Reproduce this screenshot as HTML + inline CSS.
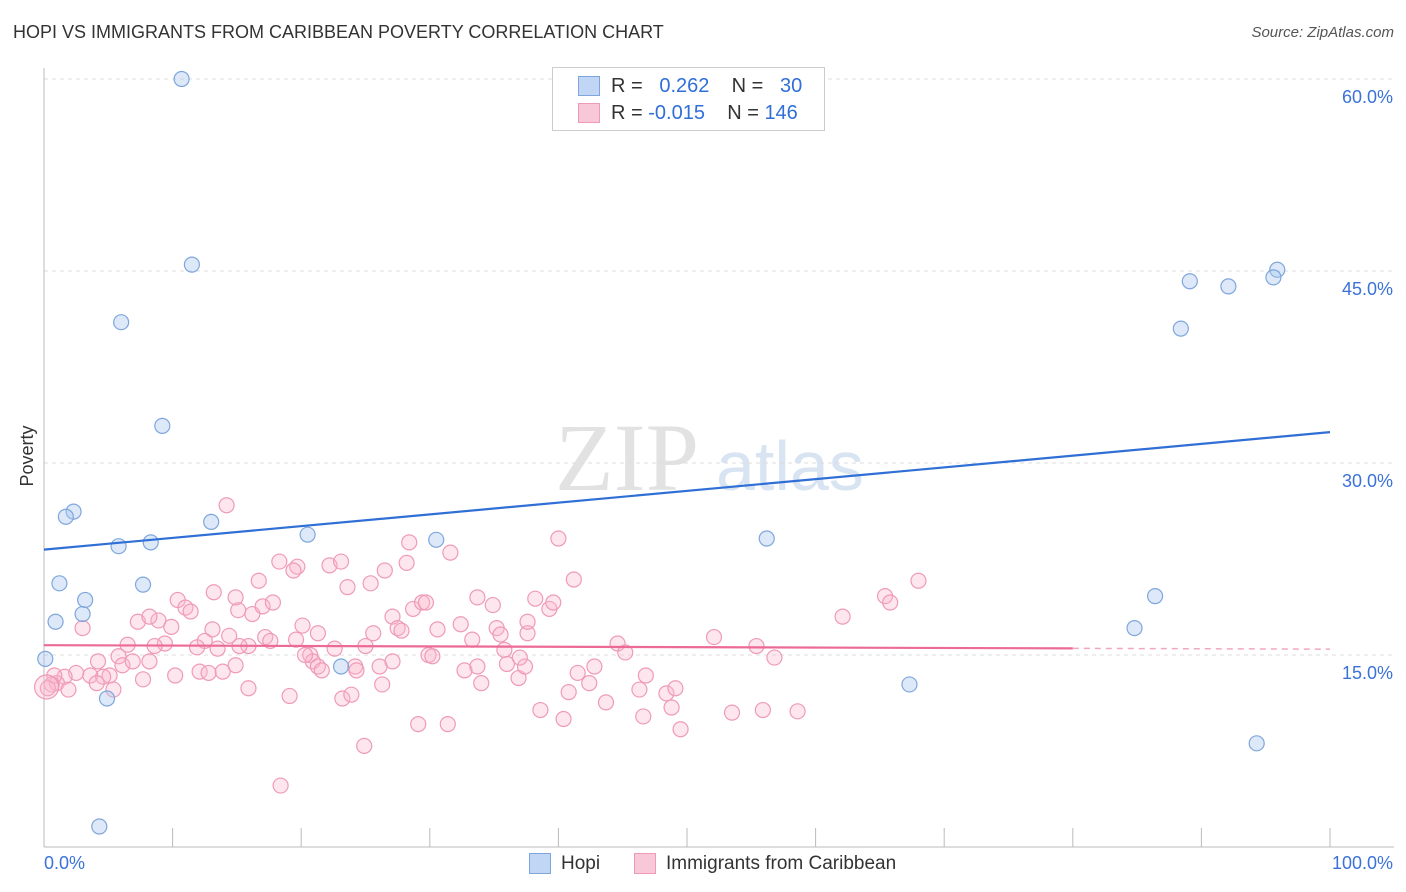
<!DOCTYPE html>
<html><head><meta charset="utf-8"><style>
body{margin:0;background:#fff;font-family:"Liberation Sans",sans-serif;}
#wrap{position:relative;width:1406px;height:892px;overflow:hidden;}
.t{position:absolute;white-space:nowrap;}
</style></head><body>
<div id="wrap">
<div class="t" style="left:13px;top:22px;font-size:18px;color:#333;">HOPI VS IMMIGRANTS FROM CARIBBEAN POVERTY CORRELATION CHART</div>
<div class="t" style="right:12px;top:24px;font-size:15px;color:#555;font-style:italic;">Source: ZipAtlas.com</div>
<svg id="svg" width="1406" height="892" style="position:absolute;left:0;top:0"></svg>
</div>
<script>
const hopiX=[10.7,11.5,6.0,9.2,2.3,1.7,13.0,5.8,8.3,20.5,30.5,56.2,1.2,7.7,3.2,0.9,3.0,0.1,4.9,4.3,23.1,67.3,89.1,92.1,95.9,95.6,88.4,86.4,84.8,94.3];
const hopiY=[60.0,45.5,41.0,32.9,26.2,25.8,25.4,23.5,23.8,24.4,24.0,24.1,20.6,20.5,19.3,17.6,18.2,14.7,11.6,1.6,14.1,12.7,44.2,43.8,45.1,44.5,40.5,19.6,17.1,8.1];
const caribX=[14.2,18.3,19.7,19.4,22.2,23.1,28.4,31.6,40.0,28.2,26.5,25.4,23.6,16.7,13.2,10.4,11.0,11.4,8.9,7.3,8.2,9.9,15.1,16.2,17.0,17.8,20.1,21.3,17.2,17.6,15.9,14.4,13.1,12.5,11.9,9.4,6.5,8.6,13.5,15.2,20.7,22.6,25.0,25.6,27.1,27.5,27.8,28.7,29.4,29.7,30.6,32.4,33.7,34.9,35.2,35.5,37.6,37.6,38.2,39.3,39.6,41.2,44.6,45.2,52.1,55.4,56.8,62.1,65.4,65.8,68.0,3.0,4.2,5.8,6.1,6.9,8.2,5.1,3.6,2.5,1.6,1.0,1.9,0.8,0.6,0.3,4.6,5.4,4.1,7.7,10.2,12.1,12.8,13.9,14.9,15.9,19.1,20.9,21.3,21.6,24.2,24.3,26.1,26.3,27.1,29.9,32.7,33.7,34.0,36.0,36.9,37.4,40.8,41.5,42.4,42.8,43.7,46.3,46.8,48.4,49.1,48.8,53.5,55.9,58.6,46.6,49.5,38.6,40.4,29.1,31.4,23.2,23.9,24.9,18.4,20.3,19.6,30.2,37.0,35.8,33.3,14.9,0.2];
const caribY=[26.7,22.3,21.9,21.6,22.0,22.3,23.8,23.0,24.1,22.2,21.6,20.6,20.3,20.8,19.9,19.3,18.7,18.4,17.7,17.6,18.0,17.2,18.5,18.2,18.8,19.1,17.3,16.7,16.4,16.1,15.7,16.5,17.0,16.1,15.6,15.9,15.8,15.7,15.5,15.7,15.0,15.5,15.7,16.7,18.0,17.1,16.9,18.6,19.1,19.1,17.0,17.4,19.5,18.9,17.1,16.6,16.7,17.6,19.4,18.6,19.1,20.9,15.9,15.2,16.4,15.7,14.8,18.0,19.6,19.1,20.8,17.1,14.5,14.9,14.2,14.5,14.5,13.4,13.4,13.6,13.3,12.8,12.3,13.4,12.7,12.4,13.3,12.3,12.8,13.1,13.4,13.7,13.6,13.7,14.2,12.4,11.8,14.5,14.1,13.8,14.1,13.8,14.1,12.7,14.5,15.0,13.8,14.1,12.8,14.3,13.2,14.1,12.1,13.6,12.8,14.1,11.3,12.3,13.4,12.0,12.4,10.9,10.5,10.7,10.6,10.2,9.2,10.7,10.0,9.6,9.6,11.6,11.9,7.9,4.8,15.0,16.2,14.9,14.8,15.4,16.2,19.5,12.5];
const yTicks=[15,30,45,60];
const yTickLabels=["15.0%","30.0%","45.0%","60.0%"];
const xTicks=[0,10,20,30,40,50,60,70,80,90,100];

const svg=document.getElementById('svg');
const NS='http://www.w3.org/2000/svg';
const X=v=>44+v*12.86, Y=v=>847-v*12.8;
function mk(tag,attrs,name,parent){const e=document.createElementNS(NS,tag);for(const k in attrs)e.setAttribute(k,attrs[k]);


(parent||svg).appendChild(e);return e;}
// watermark
const wm=mk('text',{x:555,y:490,'font-size':96,'font-family':'Liberation Serif',fill:'#e2e2e2'},'watermark-zip');wm.textContent='ZIP';
const wm2=mk('text',{x:716,y:490,'font-size':70,'font-family':'Liberation Sans',fill:'#d8e4f2'},'watermark-atlas');wm2.textContent='atlas';
yTicks.forEach((t,i)=>{
 mk('line',{x1:44,x2:1394,y1:Y(t),y2:Y(t),stroke:'#ddd','stroke-dasharray':'4,4'},'y-gridline');
 const tx=mk('text',{x:1393,y:Y(t)+24,'text-anchor':'end','font-size':18,fill:'#3a72d8'},'y-tick-label');tx.textContent=yTickLabels[i];
});
mk('line',{x1:44,x2:44,y1:68,y2:847,stroke:'#bbb'},'y-axis');
mk('line',{x1:44,x2:1394,y1:847,y2:847,stroke:'#bbb'},'x-axis');
xTicks.forEach(t=>mk('line',{x1:X(t),x2:X(t),y1:828,y2:847,stroke:'#bbb'},'x-tick'));
const xl=mk('text',{x:44,y:869,'font-size':18,fill:'#3a72d8'},'x-min-label');xl.textContent='0.0%';
const xr=mk('text',{x:1393,y:869,'text-anchor':'end','font-size':18,fill:'#3a72d8'},'x-max-label');xr.textContent='100.0%';
const yt=mk('text',{x:33,y:456,'font-size':18,fill:'#333','text-anchor':'middle',transform:'rotate(-90 33 456)'},'y-axis-title');yt.textContent='Poverty';
function fit(xs,ys){const n=xs.length;let mx=0,my=0;for(let i=0;i<n;i++){mx+=xs[i];my+=ys[i];}mx/=n;my/=n;let sxy=0,sxx=0;for(let i=0;i<n;i++){sxy+=(xs[i]-mx)*(ys[i]-my);sxx+=(xs[i]-mx)**2;}const b=sxy/sxx;return [my-b*mx,b];}
caribX.forEach((x,i)=>mk('circle',{cx:X(x),cy:Y(caribY[i]),r:i==caribX.length-1?12:7.5,fill:'rgba(248,182,204,0.35)',stroke:'#ef9ab8','stroke-width':1.2},'caribbean-point'));
hopiX.forEach((x,i)=>mk('circle',{cx:X(x),cy:Y(hopiY[i]),r:7.5,fill:'rgba(170,200,240,0.4)',stroke:'#7fa6dc','stroke-width':1.2},'hopi-point'));
const [ha,hb]=fit(hopiX,hopiY);
mk('line',{x1:X(0),y1:Y(ha),x2:X(100),y2:Y(ha+hb*100),stroke:'#2f6fd6','stroke-width':2.2},'hopi-trend-line');
const [ca,cb]=fit(caribX,caribY);
mk('line',{x1:X(0),y1:Y(ca),x2:X(80),y2:Y(ca+cb*80),stroke:'#ec6a96','stroke-width':2.2},'caribbean-trend-line');
mk('line',{x1:X(80),y1:Y(ca+cb*80),x2:X(100),y2:Y(ca+cb*100),stroke:'#f0a8c0','stroke-width':1.5,'stroke-dasharray':'6,5'},'caribbean-trend-extension');
</script>
<div class="t" style="left:552px;top:67px;width:271px;height:62px;border:1px solid #ccc;background:#fff;font-size:20px;">
 <div class="t" style="left:25px;top:8px;width:20px;height:18px;background:#c0d6f4;border:1px solid #7fa6dc;"></div>
 <div class="t" style="left:58px;top:7px;color:#333;">R = &nbsp;<span style="color:#2f6fd6">&nbsp;0.262</span>&nbsp;&nbsp;&nbsp; N = &nbsp;<span style="color:#2f6fd6"> 30</span></div>
 <div class="t" style="left:25px;top:35px;width:20px;height:18px;background:#f8c8d8;border:1px solid #ef9ab8;"></div>
 <div class="t" style="left:58px;top:34px;color:#333;">R = <span style="color:#2f6fd6">-0.015</span>&nbsp;&nbsp;&nbsp; N = <span style="color:#2f6fd6">146</span></div>
</div>
<div class="t" style="left:529px;top:853px;width:20px;height:19px;background:#c0d6f4;border:1px solid #7fa6dc;"></div>
<div class="t" style="left:561px;top:853px;font-size:19px;color:#333;">Hopi</div>
<div class="t" style="left:634px;top:853px;width:20px;height:19px;background:#f8c8d8;border:1px solid #ef9ab8;"></div>
<div class="t" style="left:666px;top:853px;font-size:19px;color:#333;">Immigrants from Caribbean</div>
</body></html>
